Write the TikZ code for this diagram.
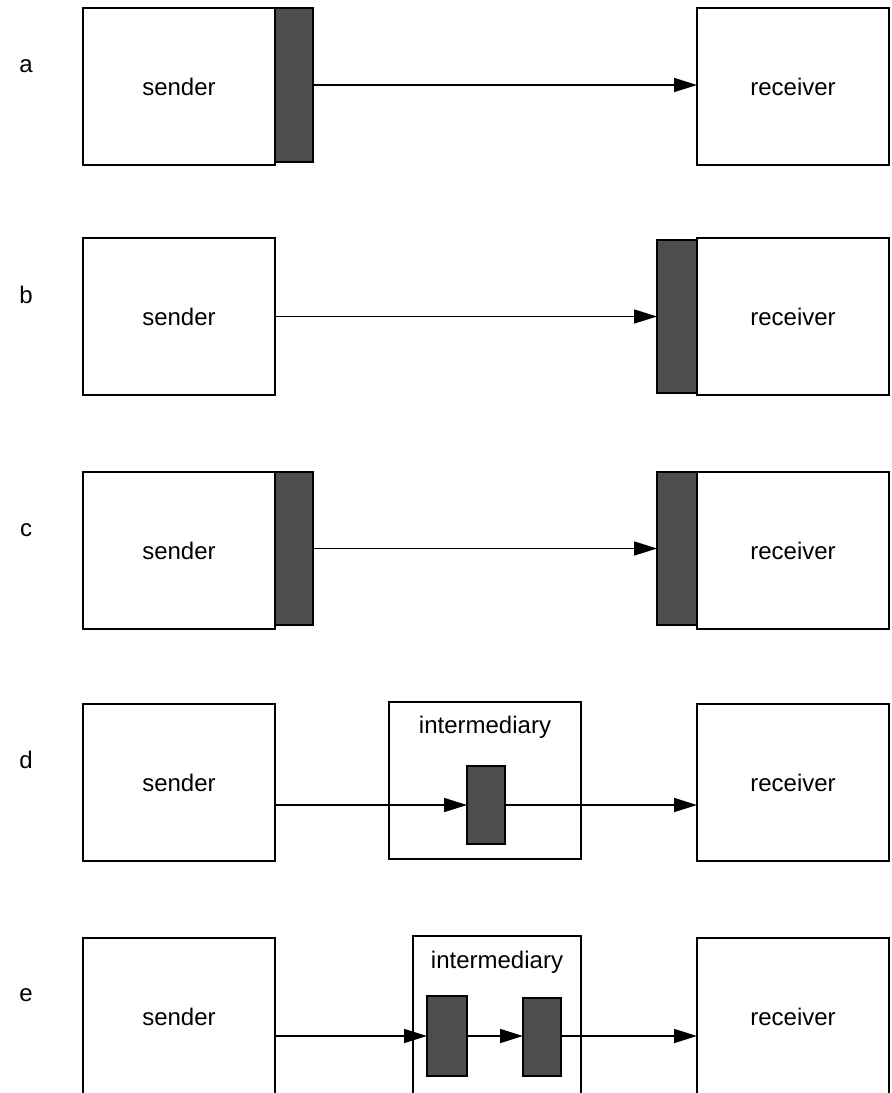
\documentclass[tikz,border=0pt]{standalone}
\usepackage{fontspec}
\setmainfont{Liberation Sans}
\usetikzlibrary{arrows.meta}
\definecolor{bufgray}{HTML}{4D4D4D}
\tikzset{
  party/.style={draw, line width=1.7pt, anchor=north west, inner sep=0pt, outer sep=0pt,
    minimum width=192pt, minimum height=157pt, font=\fontsize{24}{28}\selectfont},
  midbox/.style={draw, line width=1.7pt, anchor=north west, inner sep=0pt, outer sep=0pt},
  buf/.style={draw, fill=bufgray, line width=1.7pt, anchor=north west, inner sep=0pt, outer sep=0pt},
  caption/.style={anchor=base, inner sep=0pt, font=\fontsize{24}{28}\selectfont},
  arr/.style={line width=1.6pt, -{Triangle[length=23pt,width=14pt]}}
}
\begin{document}
\begin{tikzpicture}[x=1pt,y=-1pt]
\clip (0,0) rectangle (892,1093);
\fill[white] (0,0) rectangle (892,1093);

% a: buffer at the sender
\node[caption] (la) at (26,72) {a};
\node[party] (sa) at (83,8) {sender};
\node[buf, minimum width=38pt, minimum height=154pt] (ba) at (275,8) {};
\node[party] (ra) at (697,8) {receiver};
\draw[arr] (ba.east) -- (ra.west |- ba.east);

% b: buffer at the receiver
\node[caption] (lb) at (26,303) {b};
\node[party] (sb) at (83,238) {sender};
\node[party] (rb) at (697,238) {receiver};
\node[buf, minimum width=40pt, minimum height=153pt] (bb) at (657,240) {};
\draw[arr] (sb.east |- bb.west) -- (bb.west);

% c: buffers at both ends
\node[caption] (lc) at (26,536) {c};
\node[party] (sc) at (83,472) {sender};
\node[buf, minimum width=38pt, minimum height=153pt] (bc1) at (275,472) {};
\node[party] (rc) at (697,472) {receiver};
\node[buf, minimum width=40pt, minimum height=153pt] (bc2) at (657,472) {};
\draw[arr] (bc1.east) -- (bc2.west);

% d: one buffer in an intermediary
\node[caption] (ld) at (26,768) {d};
\node[party] (sd) at (83,704) {sender};
\node[midbox, minimum width=192pt, minimum height=157pt] (id) at (389,702) {};
\node[caption] (tid) at (485,733) {intermediary};
\node[buf, minimum width=38pt, minimum height=78pt] (bd) at (467,766) {};
\node[party] (rd) at (697,704) {receiver};
\draw[arr] (sd.east |- bd.west) -- (bd.west);
\draw[arr] (bd.east) -- (rd.west |- bd.east);

% e: two buffers in an intermediary
\node[caption] (le) at (26,1001) {e};
\node[party] (se) at (83,938) {sender};
\node[midbox, minimum width=168pt, minimum height=170pt] (ie) at (413,936) {};
\node[caption] (tie) at (497,968) {intermediary};
\node[buf, minimum width=40pt, minimum height=80pt] (be1) at (427,996) {};
\node[buf, minimum width=38pt, minimum height=78pt] (be2) at (523,998) {};
\node[party] (re) at (697,938) {receiver};
\draw[arr] (se.east |- be1.west) -- (be1.west);
\draw[arr] (be1.east) -- (be2.west |- be1.east);
\draw[arr] (be2.east |- be1.east) -- (re.west |- be1.east);
\end{tikzpicture}
\end{document}
